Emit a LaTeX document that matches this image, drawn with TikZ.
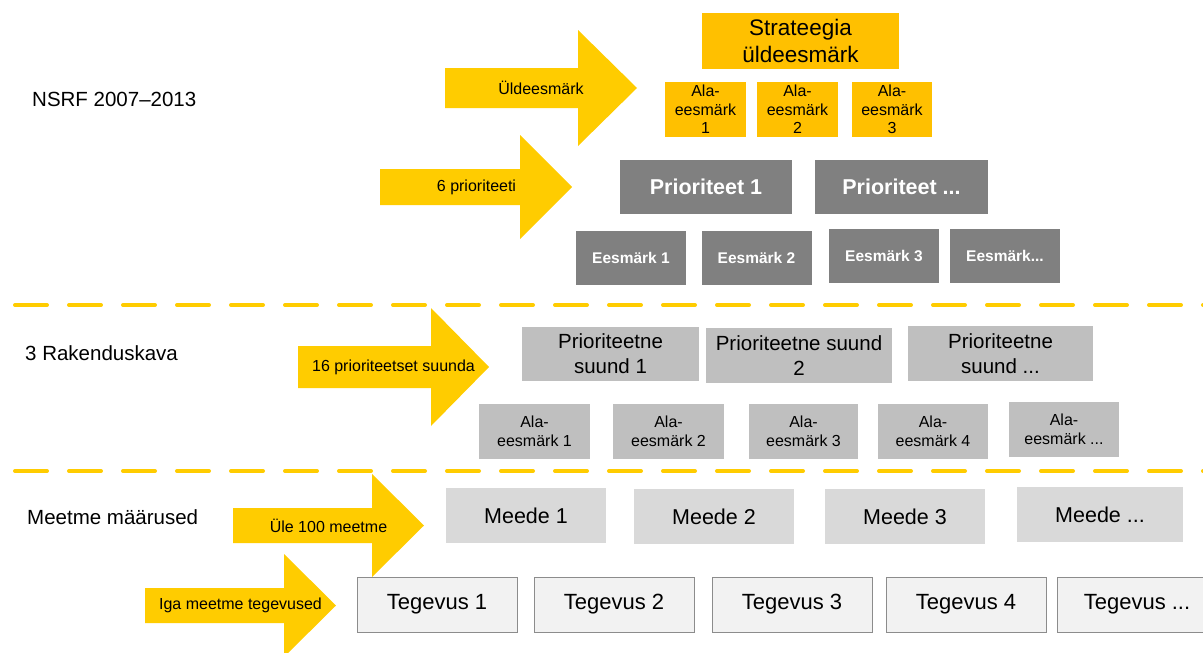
\documentclass[tikz,border=0pt]{standalone}
\usepackage{fontspec}
\setmainfont{Liberation Sans}
\definecolor{arrowyellow}{HTML}{FFCC00}
\definecolor{orgbox}{HTML}{FFC000}
\definecolor{dgray}{HTML}{808080}
\definecolor{lgray}{HTML}{BFBFBF}
\definecolor{mgray}{HTML}{D9D9D9}
\definecolor{tgray}{HTML}{F2F2F2}
\definecolor{bgray}{HTML}{8C8C8C}
\newcommand{\fs}[2]{\fontsize{#1}{#2}\selectfont}
\begin{document}
\begin{tikzpicture}[x=1pt,y=-1pt,
  box/.style={inner sep=0pt, align=center, text=black},
  orangebox/.style={box, fill=orgbox},
  darkbox/.style={box, fill=dgray, text=white, font=\bfseries},
  ltbox/.style={box, fill=lgray, font=\fs{20.5}{25}, minimum height=54pt},
  aebox/.style={box, fill=lgray, font=\fs{16}{18.5}, minimum height=55pt},
  meedebox/.style={box, fill=mgray, font=\fs{21.5}{25}, minimum width=160pt, minimum height=55pt},
  tegbox/.style={box, fill=tgray, draw=bgray, line width=1pt, font=\fs{22}{25}, minimum width=160pt, minimum height=55pt},
  bigarrow/.style={fill=arrowyellow},
  arrowlabel/.style={inner sep=0pt, font=\fs{16}{18}},
  sidelabel/.style={inner sep=0pt, anchor=west, font=\fs{20.5}{24}},
  divider/.style={draw=arrowyellow, line width=4pt, line cap=round, dash pattern=on 32pt off 22pt}
]
\useasboundingbox (0,0) rectangle (1203,653);
\clip (0,0) rectangle (1203,653);
\fill[white] (0,0) rectangle (1203,653);

% side labels
\node[sidelabel] (l1) at (32,99) {NSRF 2007–2013};
\node[sidelabel] (l2) at (25,353) {3 Rakenduskava};
\node[sidelabel] (l3) at (27,517) {Meetme määrused};

% dividers
\coordinate (d1a) at (15,305);
\coordinate (d1b) at (1210,305);
\coordinate (d2a) at (15,471);
\coordinate (d2b) at (1210,471);
\draw[divider] (d1a) -- (d1b);
\draw[divider] (d2a) -- (d2b);

% big arrows
\fill[bigarrow] (445,68) -- (578,68) -- (578,30) -- (637,88) -- (578,146) -- (578,108) -- (445,108) -- cycle;
\fill[bigarrow] (380,169) -- (520,169) -- (520,135) -- (572,187) -- (520,239) -- (520,205) -- (380,205) -- cycle;
\fill[bigarrow] (298,346) -- (431,346) -- (431,308) -- (489,367) -- (431,426) -- (431,388) -- (298,388) -- cycle;
\fill[bigarrow] (233,508) -- (372,508) -- (372,474) -- (424,525.5) -- (372,577) -- (372,543) -- (233,543) -- cycle;
\fill[bigarrow] (145,588) -- (284,588) -- (284,554) -- (336,605.5) -- (284,657) -- (284,623) -- (145,623) -- cycle;

\node[arrowlabel] (a1) at (541,88) {Üldeesmärk};
\node[arrowlabel] (a2) at (476.5,187) {6 prioriteeti};
\node[arrowlabel] (a3) at (393.5,367) {16 prioriteetset suunda};
\node[arrowlabel] (a4) at (328.5,525.5) {Üle 100 meetme};
\node[arrowlabel] (a5) at (240.5,605) {Iga meetme tegevused};

% top level
\node[orangebox, minimum width=197pt, minimum height=56pt, font=\fs{22.5}{27}] (sg) at (800.5,41) {Strateegia\\üldeesmärk};
\node[orangebox, minimum width=81pt, minimum height=55pt, font=\fs{16}{18.3}] (ae1) at (705.5,109.5) {Ala-\\eesmärk\\1};
\node[orangebox, minimum width=81pt, minimum height=55pt, font=\fs{16}{18.3}] (ae2) at (797.5,109.5) {Ala-\\eesmärk\\2};
\node[orangebox, minimum width=80pt, minimum height=55pt, font=\fs{16}{18.3}] (ae3) at (892,109.5) {Ala-\\eesmärk\\3};

% priorities
\node[darkbox, minimum width=172pt, minimum height=54pt, font=\bfseries\fs{21.5}{25}] (p1) at (706,187) {Prioriteet 1};
\node[darkbox, minimum width=173pt, minimum height=54pt, font=\bfseries\fs{21.5}{25}] (p2) at (901.5,187) {Prioriteet ...};

\node[darkbox, minimum width=110pt, minimum height=54pt, font=\bfseries\fs{15.5}{18}] (e1) at (631,258) {Eesmärk 1};
\node[darkbox, minimum width=110pt, minimum height=54pt, font=\bfseries\fs{15.5}{18}] (e2) at (756.5,258) {Eesmärk 2};
\node[darkbox, minimum width=110pt, minimum height=54pt, font=\bfseries\fs{15.5}{18}] (e3) at (884,256) {Eesmärk 3};
\node[darkbox, minimum width=110pt, minimum height=54pt, font=\bfseries\fs{15.5}{18}] (e4) at (1005,256) {Eesmärk...};

% priority directions
\node[ltbox, minimum width=177pt] (ps1) at (610.5,354) {Prioriteetne\\suund 1};
\node[ltbox, minimum width=186pt, minimum height=55pt] (ps2) at (799,355.5) {Prioriteetne suund\\2};
\node[ltbox, minimum width=185pt, minimum height=55pt] (ps3) at (1000.5,353.5) {Prioriteetne\\suund ...};

\node[aebox, minimum width=111pt] (s1) at (534.5,431.5) {Ala-\\eesmärk 1};
\node[aebox, minimum width=111pt] (s2) at (668.5,431.5) {Ala-\\eesmärk 2};
\node[aebox, minimum width=109pt] (s3) at (803.5,431.5) {Ala-\\eesmärk 3};
\node[aebox, minimum width=110pt] (s4) at (933,431.5) {Ala-\\eesmärk 4};
\node[aebox, minimum width=110pt] (s5) at (1064,429.5) {Ala-\\eesmärk ...};

% measures
\node[meedebox] (m1) at (526,515.5) {Meede 1};
\node[meedebox] (m2) at (714,516.5) {Meede 2};
\node[meedebox] (m3) at (905,516.5) {Meede 3};
\node[meedebox, minimum width=166pt] (m4) at (1100,514.5) {Meede ...};

% activities
\node[tegbox] (t1) at (437,604.5) {Tegevus 1};
\node[tegbox] (t2) at (614,604.5) {Tegevus 2};
\node[tegbox] (t3) at (792,604.5) {Tegevus 3};
\node[tegbox] (t4) at (966,604.5) {Tegevus 4};
\node[tegbox] (t5) at (1137,604.5) {Tegevus ...};
\end{tikzpicture}
\end{document}
